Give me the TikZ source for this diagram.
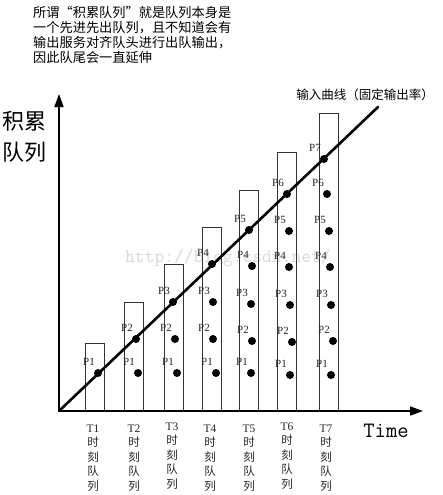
\documentclass[tikz,border=0pt]{standalone}
\usepackage{fontspec}
\setmainfont{Liberation Serif}
\newfontfamily\cjk{Noto Sans CJK SC}
\usetikzlibrary{arrows.meta}
\begin{document}
\begin{tikzpicture}[x=1pt,y=-1pt,
  axisline/.style={line width=1.6pt,-{Triangle[length=13pt,width=9pt]}},
  barbox/.style={draw=black!80,line width=0.8pt},
  inputline/.style={line width=2.6pt,line cap=round},
  pdot/.style={circle,fill=black,inner sep=0pt,minimum size=8pt},
  plabel/.style={font=\fontsize{11}{11}\selectfont,inner sep=0pt,text=black!85},
  tlabel/.style={font=\cjk\fontsize{11.5}{14.5}\selectfont,align=center,inner sep=0pt,text=black!85},
  watermark/.style={font=\ttfamily\fontsize{19}{19}\selectfont,text=black!15,inner sep=0pt}]
\useasboundingbox (0,0) rectangle (442,495);
\fill[white] (0,0) rectangle (442,495);
% watermark
\node[watermark,anchor=west] (wm) at (125,258) {http://blog.csdn.net/};
% top text
\node[font=\cjk\fontsize{13.2}{15.3}\selectfont,align=left,anchor=west,inner sep=0pt] (note) at (33,35)
  {所谓“积累队列”就是队列本身是\\一个先进先出队列，且不知道会有\\输出服务对齐队头进行出队输出，\\因此队尾会一直延伸};
% y label
\node[font=\cjk\fontsize{22}{31}\selectfont,align=left,anchor=west,inner sep=0pt] (ylab) at (2,137) {积累\\队列};
% bars
\foreach \x/\t [count=\i] in {85/343,124/302,164/264,202/227,239/190,277/152,319/113}
  \draw[barbox] (\x,411) rectangle (\x+19,\t);
% axes
\coordinate (O) at (59,411);
\coordinate (ytip) at (59,94);
\coordinate (xtip) at (423,411);
\draw[axisline] (O) -- (ytip);
\draw[axisline] (O) -- (xtip);
% input line
\coordinate (lend) at (378,107);
\draw[inputline] (O) -- (lend);
\node[font=\cjk\fontsize{12.5}{12.5}\selectfont,inner sep=0pt] (inlab) at (365,95) {输入曲线（固定输出率）};
\node[font=\ttfamily\fontsize{22}{22}\selectfont,inner sep=0pt] (time) at (386,431) {Time};
% dots
\foreach \x/\y/\p [count=\k] in {
  98/373/1,
  136/339/2, 138/373/1,
  173/302/3, 175/339/2, 177/373/1,
  212/264/4, 213/302/3, 213/339/2, 216/373/1,
  249/230/5, 252/266/4, 251/304/3, 252/341/2, 251/373/1,
  287/194/6, 289/231/5, 289/267/4, 290/305/3, 292/342/2, 290/375/1,
  324/159/7, 327/194/6, 329/231/5, 330/267/4, 331/305/3, 333/341/2, 331/375/1}
{
  \node[pdot] (d\k) at (\x,\y) {};
  \node[plabel] (l\k) at (\x-9,\y-11) {P\p};
}
% time labels
\foreach \x/\dy [count=\i] in {93/0,134/0,172/-2,210/0,249/0,287/-2,326/0}
  \node[tlabel] (t\i) at (\x,458+\dy) {\rmfamily T\i\\时\\刻\\队\\列};
\end{tikzpicture}
\end{document}
